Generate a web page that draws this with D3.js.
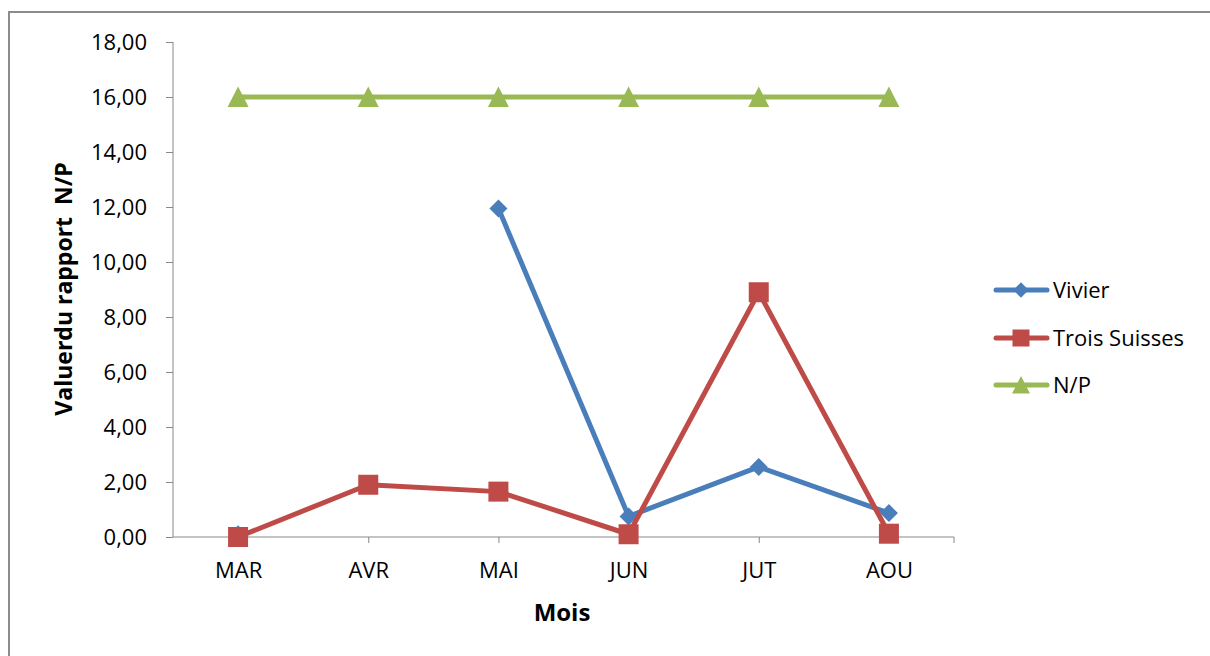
<!DOCTYPE html>
<html><head><meta charset="utf-8">
<script src="https://cdn.jsdelivr.net/npm/d3@7"></script>
<style>
html,body{margin:0;padding:0;background:#fff;}
text{font-family:"Open Sans","Lato",sans-serif;fill:#000;}
</style></head>
<body>
<svg id="chart" width="1210" height="656"></svg>
<script>
const categories = ["MAR","AVR","MAI","JUN","JUT","AOU"];
const vivier = [0.1, null, 11.95, 0.75, 2.55, 0.87];
const troisSuisses = [0.0, 1.9, 1.65, 0.1, 8.9, 0.12];
const np = [16, 16, 16, 16, 16, 16];
const yTicks = [0,2,4,6,8,10,12,14,16,18];
const seriesNames = ["Vivier","Trois Suisses","N/P"];

const svg = d3.select("#chart");
// outer frame
svg.append("rect").attr("x",9).attr("y",12).attr("width",1220).attr("height",700)
  .attr("fill","none").attr("stroke","#8c8c8c").attr("stroke-width",2);

const x = d3.scalePoint().domain(categories).range([173,954]).padding(0.5);
const y = d3.scaleLinear().domain([0,18]).range([537,42]);

// y axis
const ya = svg.append("g").attr("transform","translate(173,0)")
  .call(d3.axisLeft(y).tickValues(yTicks).tickSize(7).tickPadding(19)
    .tickFormat(d=>d3.format(".2f")(d).replace(".",",")));
ya.attr("font-family",null).attr("font-size",null);
ya.select(".domain").attr("stroke","#888").attr("d","M0,42V537");
ya.selectAll(".tick line").attr("stroke","#888");
ya.selectAll(".tick text").style("font-size","22px").attr("dy","0.36em");

// x axis
const xa = svg.append("g").attr("transform","translate(0,537)")
  .call(d3.axisBottom(x).tickSize(6).tickPadding(19));
xa.attr("font-family",null).attr("font-size",null);
xa.select(".domain").attr("stroke","#888").attr("d","M173,0H954");
xa.selectAll(".tick line").attr("stroke","#888");
xa.selectAll(".tick text").style("font-size","22px");
xa.append("line").attr("x1",x.range()[1]).attr("x2",x.range()[1]).attr("y1",0).attr("y2",6).attr("stroke","#888");

// axis titles
svg.append("text").attr("transform","translate(72,289) rotate(-90)")
  .attr("text-anchor","middle").style("font-size","23px").style("font-weight","bold")
  .style("white-space","pre").text("Valuerdu rapport  N/P");
svg.append("text").attr("x",562).attr("y",621).attr("text-anchor","middle")
  .style("font-size","24px").style("font-weight","bold").text("Mois");

const colors = ["#4A7EBB","#BE4B48","#98B954"];
const data = [vivier, troisSuisses, np];
const line = d3.line().defined(d=>d.v!=null).x(d=>x(d.c)).y(d=>y(d.v));

function marker(g, type, cx, cy, color, s){
  s = s||1;
  if(type===0){
    const r=9*s;
    g.append("path").attr("d",`M${cx},${cy-r}L${cx+r},${cy}L${cx},${cy+r}L${cx-r},${cy}Z`).attr("fill",color);
  } else if(type===1){
    const r=10*s;
    g.append("rect").attr("x",cx-r).attr("y",cy-r).attr("width",2*r).attr("height",2*r).attr("fill",color);
  } else {
    const r=10.5*s;
    g.append("path").attr("d",`M${cx},${cy-r}L${cx+r},${cy+r*0.95}L${cx-r},${cy+r*0.95}Z`).attr("fill",color);
  }
}

data.forEach((arr,i)=>{
  const pts = arr.map((v,j)=>({c:categories[j],v}));
  const g = svg.append("g");
  g.append("path").attr("d",line(pts)).attr("fill","none").attr("stroke",colors[i])
    .attr("stroke-width",5).attr("stroke-linejoin","round").attr("stroke-linecap","round");
  pts.filter(d=>d.v!=null).forEach(d=>marker(g,i,x(d.c),y(d.v),colors[i]));
});

// legend
const legY = [290,338,385];
seriesNames.forEach((n,i)=>{
  const g = svg.append("g");
  g.append("line").attr("x1",996).attr("x2",1047).attr("y1",legY[i]).attr("y2",legY[i])
    .attr("stroke",colors[i]).attr("stroke-width",5).attr("stroke-linecap","round");
  marker(g,i,1021,legY[i],colors[i],0.85);
  g.append("text").attr("x",1053).attr("y",legY[i]).attr("dy","0.36em").style("font-size","22px").text(n);
});
</script>
</body></html>
